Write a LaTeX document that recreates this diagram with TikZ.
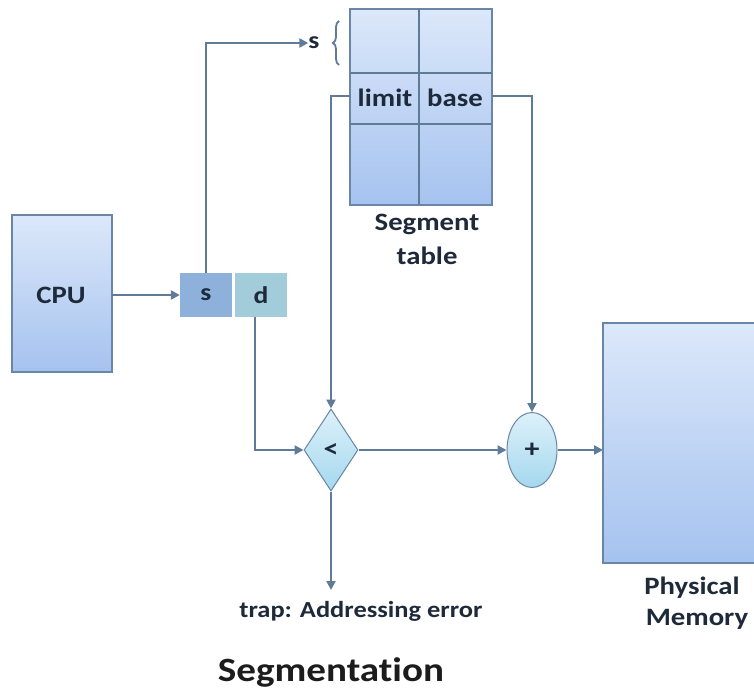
\documentclass[tikz,border=0pt]{standalone}
\usepackage{fontspec}
\setmainfont{Carlito}[FakeStretch=1.15, Ligatures=NoCommon]
\usetikzlibrary{shapes.geometric,arrows.meta,decorations.pathreplacing}
\definecolor{wire}{HTML}{5E7B98}
\definecolor{edge}{HTML}{6A86A6}
\definecolor{boxtop}{HTML}{DCE8FA}
\definecolor{boxbot}{HTML}{A5C2EF}
\definecolor{scell}{HTML}{8EB1DC}
\definecolor{dcell}{HTML}{A3CCDA}
\definecolor{optop}{HTML}{DDF1FA}
\definecolor{opbot}{HTML}{A4D8EE}
\definecolor{ink}{HTML}{1E2A3A}
\definecolor{titleink}{HTML}{1C1C1C}
\tikzset{
  blockbox/.style={draw=edge, line width=1.2pt, top color=boxtop, bottom color=boxbot},
  field/.style={minimum width=52pt, minimum height=43pt, inner sep=0pt, font=\bfseries\fontsize{24}{24}\selectfont, text=ink},
  opshape/.style={draw=edge, line width=1pt, top color=optop, bottom color=opbot, inner sep=0pt, font=\bfseries\fontsize{26}{26}\selectfont, text=ink},
  wireline/.style={draw=wire, line width=2.8pt},
  arr/.style={wireline, -{Triangle[length=9pt,width=9pt]}},
  lbl/.style={font=\bfseries\fontsize{25}{28}\selectfont, text=ink, align=center, inner sep=0pt},
}
\begin{document}
\begin{tikzpicture}[x=1pt,y=-1pt]
\useasboundingbox (0,0) rectangle (754,692);
\fill[white] (0,0) rectangle (754,692);

% CPU
\path[blockbox] (12,215) rectangle (112,372);
\node[lbl] (cpu) at (61,295) {CPU};
\coordinate (cpuR) at (112,295);

% logical address s | d
\node[field, fill=scell] (s) at (206,295) {s};
\node[field, fill=dcell] (d) at (261,295) {d};
\coordinate (dOut) at (255,316.5);

% segment table
\path[blockbox] (350,9) rectangle (492,205);
\draw[wire, line width=2pt] (419,9) -- (419,205)
  (350,73) -- (492,73) (350,124) -- (492,124);
\node[lbl] (limit) at (385,98) {limit};
\node[lbl] (base) at (455,98) {base};
\coordinate (limitL) at (350,96);
\coordinate (baseR) at (492,96);
\node[lbl] at (427,224) {Segment};
\node[lbl] at (427,256) {table};

% segment number selects a row
\node[lbl, font=\bfseries\fontsize{24}{24}\selectfont] (sidx) at (314,43) {s};
\draw[wire, line width=1.8pt, decorate, decoration={brace, amplitude=6pt}]
  (339,65) -- (339,21);

% physical memory
\path[blockbox] (603,323) rectangle (770,563);
\coordinate (memL) at (603,450);
\node[lbl] at (692,588) {Physical};
\node[lbl] at (697,619) {Memory};

% comparator and adder
\node[diamond, opshape, minimum width=54pt, minimum height=82pt] (cmp) at (331,450) {<};
\node[ellipse, opshape, minimum width=50pt, minimum height=75pt] (add) at (532,450) {+};

% connectors
\draw[arr] (cpuR) -- (s.west);
\draw[arr] (s.north) |- (sidx.west);
\draw[arr] (limitL) -| (cmp.north);
\draw[arr] (baseR) -| (add.north);
\draw[arr] (dOut) |- (cmp.west);
\draw[arr] (cmp.east) -- (add.west);
\draw[arr] (add.east) -- (memL);
\node[lbl, font=\bfseries\fontsize{23}{23}\selectfont] (trap) at (361,611) {trap: Addressing error};
\coordinate (trapTip) at (331,590);
\draw[arr] (cmp.south) -- (trapTip);

% caption
\node[font=\bfseries\fontsize{34}{34}\selectfont, text=titleink] at (331,672) {Segmentation};
\end{tikzpicture}
\end{document}
